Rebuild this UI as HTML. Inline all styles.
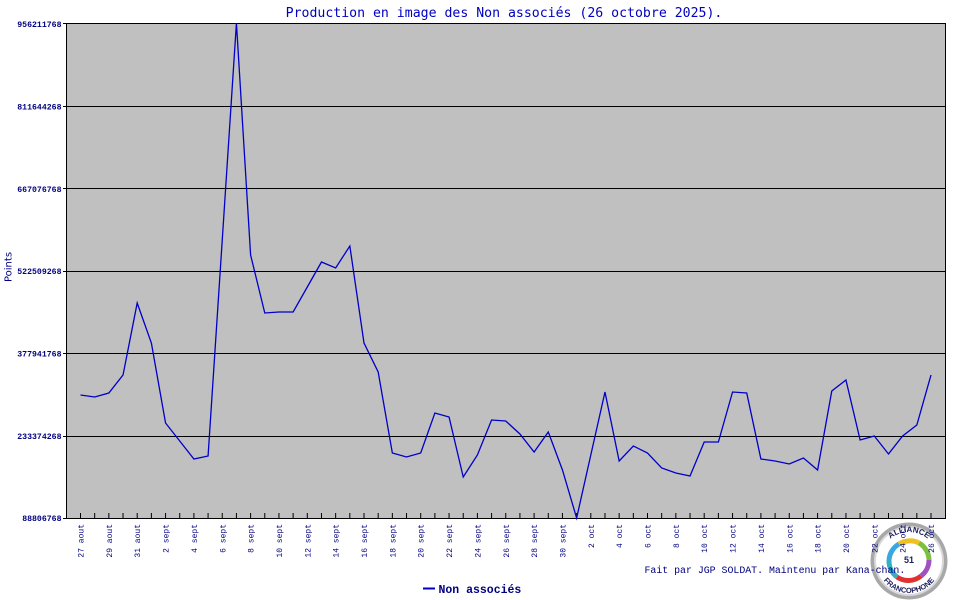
<!DOCTYPE html>
<html>
<head>
<meta charset="utf-8">
<style>
  html,body{margin:0;padding:0;background:#fff;}
  svg{display:block;}
</style>
</head>
<body>
<svg width="970" height="600" viewBox="0 0 970 600" xmlns="http://www.w3.org/2000/svg">
  <rect x="0" y="0" width="970" height="600" fill="#ffffff"/>
  <!-- Title -->
  <text x="504" y="17" text-anchor="middle" font-family="DejaVu Sans Mono, Liberation Mono, monospace" font-size="13.2" fill="#0000c0">Production en image des Non associés (26 octobre 2025).</text>

  <!-- Plot area -->
  <rect x="67" y="24" width="878" height="494" fill="#c0c0c0"/>
  <g stroke="#000" stroke-width="1">
    <line x1="67" y1="106.5" x2="945" y2="106.5"/>
    <line x1="67" y1="188.5" x2="945" y2="188.5"/>
    <line x1="67" y1="271.5" x2="945" y2="271.5"/>
    <line x1="67" y1="353.5" x2="945" y2="353.5"/>
    <line x1="67" y1="436.5" x2="945" y2="436.5"/>
    <rect x="66.5" y="23.5" width="879" height="495" fill="none"/>
    <line x1="63" y1="23.5" x2="67" y2="23.5"/>
    <line x1="63" y1="106.5" x2="67" y2="106.5"/>
    <line x1="63" y1="188.5" x2="67" y2="188.5"/>
    <line x1="63" y1="271.5" x2="67" y2="271.5"/>
    <line x1="63" y1="353.5" x2="67" y2="353.5"/>
    <line x1="63" y1="436.5" x2="67" y2="436.5"/>
    <line x1="63" y1="518.5" x2="67" y2="518.5"/>
  </g>

  <!-- Y labels -->
  <g font-family="Liberation Mono, DejaVu Sans Mono, monospace" font-size="8.2" font-weight="bold" fill="#000080" text-anchor="end">
    <text x="61.5" y="27">956211768</text>
    <text x="61.5" y="109.5">811644268</text>
    <text x="61.5" y="192">667076768</text>
    <text x="61.5" y="274">522509268</text>
    <text x="61.5" y="356.5">377941768</text>
    <text x="61.5" y="439">233374268</text>
    <text x="61.5" y="521">88806768</text>
  </g>

  <!-- Y axis title -->
  <text transform="translate(11.5,267) rotate(-90)" text-anchor="middle" font-family="DejaVu Sans, Liberation Sans, sans-serif" font-size="10" fill="#000080">Points</text>

  <!-- X ticks -->
  <g stroke="#000" stroke-width="1">
    <path d="M80.5 513V518M94.68 513V518M108.85 513V518M123.03 513V518M137.2 513V518M151.38 513V518M165.55 513V518M179.73 513V518M193.9 513V518M208.08 513V518M222.25 513V518M236.43 513V518M250.6 513V518M264.78 513V518M278.95 513V518M293.13 513V518M307.3 513V518M321.48 513V518M335.65 513V518M349.83 513V518M364 513V518M378.18 513V518M392.35 513V518M406.53 513V518M420.7 513V518M434.88 513V518M449.05 513V518M463.23 513V518M477.4 513V518M491.58 513V518M505.75 513V518M519.93 513V518M534.1 513V518M548.28 513V518M562.45 513V518M576.63 513V518M590.8 513V518M604.98 513V518M619.15 513V518M633.33 513V518M647.5 513V518M661.68 513V518M675.85 513V518M690.03 513V518M704.2 513V518M718.38 513V518M732.55 513V518M746.73 513V518M760.9 513V518M775.08 513V518M789.25 513V518M803.43 513V518M817.6 513V518M831.78 513V518M845.95 513V518M860.13 513V518M874.3 513V518M888.48 513V518M902.65 513V518M916.83 513V518M931 513V518"/>
  </g>

  <!-- Data line -->
  <polyline fill="none" stroke="#0000c8" stroke-width="1.3" stroke-linejoin="miter" points="
    80.5,395 94.68,397 108.85,393 123.03,375 137.2,303 151.38,343 165.55,423 179.73,441 193.9,459 208.08,456
    222.25,240 236.43,23 250.6,255 264.78,313 278.95,312 293.13,312 307.3,287 321.48,262 335.65,268 349.83,246
    364,343 378.18,372 392.35,453 406.53,457 420.7,453 434.88,413 449.05,417 463.23,477 477.4,455 491.58,420
    505.75,421 519.93,434 534.1,452 548.28,432 562.45,470 576.63,518 590.8,455 604.98,392 619.15,461 633.33,446
    647.5,453 661.68,468 675.85,473 690.03,476 704.2,442 718.38,442 732.55,392 746.73,393 760.9,459 775.08,461
    789.25,464 803.43,458 817.6,470 831.78,391 845.95,380 860.13,440 874.3,436 888.48,454 902.65,436 916.83,425 931,375"/>

  <!-- Logo -->
  <g>
    <circle cx="909" cy="561" r="38.5" fill="#a8a8a8"/>
    <circle cx="909" cy="561" r="35" fill="#d8d8d8"/>
    <circle cx="909" cy="561" r="33" fill="#ffffff"/>
    <g fill="none" stroke-width="5">
      <path d="M889 561 A20 20 0 0 1 899 544" stroke="#3aa8e0"/>
      <path d="M899 544 A20 20 0 0 1 919 543" stroke="#f0c020"/>
      <path d="M919 543 A20 20 0 0 1 929 560" stroke="#7cc040"/>
      <path d="M929 560 A20 20 0 0 1 921 576" stroke="#a050c0"/>
      <path d="M921 576 A20 20 0 0 1 897 577" stroke="#e03030"/>
      <path d="M897 577 A20 20 0 0 1 889 561" stroke="#30b0c0"/>
    </g>
    <text x="909" y="563" text-anchor="middle" font-family="Liberation Sans, sans-serif" font-size="9" font-weight="bold" fill="#202060">51</text>
    <defs>
      <path id="arcTop" d="M880 561 A29 29 0 0 1 938 561"/>
      <path id="arcBot" d="M877 561 A32 32 0 0 0 941 561"/>
    </defs>
    <text font-family="Liberation Sans, sans-serif" font-size="8" font-weight="bold" fill="#202060"><textPath href="#arcTop" startOffset="50%" text-anchor="middle">ALLIANCE</textPath></text>
    <text font-family="Liberation Sans, sans-serif" font-size="7.5" font-weight="bold" fill="#202060"><textPath href="#arcBot" startOffset="50%" text-anchor="middle">FRANCOPHONE</textPath></text>
  </g>

  <!-- X labels -->
  <g font-family="Liberation Mono, DejaVu Sans Mono, monospace" font-size="8" fill="#000080" text-anchor="end">
    <text transform="translate(83.5,524) rotate(-90)">27 aout</text>
    <text transform="translate(111.85,524) rotate(-90)">29 aout</text>
    <text transform="translate(140.2,524) rotate(-90)">31 aout</text>
    <text transform="translate(168.55,524) rotate(-90)">2 sept</text>
    <text transform="translate(196.9,524) rotate(-90)">4 sept</text>
    <text transform="translate(225.25,524) rotate(-90)">6 sept</text>
    <text transform="translate(253.6,524) rotate(-90)">8 sept</text>
    <text transform="translate(281.95,524) rotate(-90)">10 sept</text>
    <text transform="translate(310.3,524) rotate(-90)">12 sept</text>
    <text transform="translate(338.65,524) rotate(-90)">14 sept</text>
    <text transform="translate(367,524) rotate(-90)">16 sept</text>
    <text transform="translate(395.35,524) rotate(-90)">18 sept</text>
    <text transform="translate(423.7,524) rotate(-90)">20 sept</text>
    <text transform="translate(452.05,524) rotate(-90)">22 sept</text>
    <text transform="translate(480.4,524) rotate(-90)">24 sept</text>
    <text transform="translate(508.75,524) rotate(-90)">26 sept</text>
    <text transform="translate(537.1,524) rotate(-90)">28 sept</text>
    <text transform="translate(565.45,524) rotate(-90)">30 sept</text>
    <text transform="translate(593.8,524) rotate(-90)">2 oct</text>
    <text transform="translate(622.15,524) rotate(-90)">4 oct</text>
    <text transform="translate(650.5,524) rotate(-90)">6 oct</text>
    <text transform="translate(678.85,524) rotate(-90)">8 oct</text>
    <text transform="translate(707.2,524) rotate(-90)">10 oct</text>
    <text transform="translate(735.55,524) rotate(-90)">12 oct</text>
    <text transform="translate(763.9,524) rotate(-90)">14 oct</text>
    <text transform="translate(792.25,524) rotate(-90)">16 oct</text>
    <text transform="translate(820.6,524) rotate(-90)">18 oct</text>
    <text transform="translate(848.95,524) rotate(-90)">20 oct</text>
    <text transform="translate(877.3,524) rotate(-90)">22 oct</text>
    <text transform="translate(905.65,524) rotate(-90)">24 oct</text>
    <text transform="translate(934,524) rotate(-90)">26 oct</text>
  </g>

  <!-- Credit -->
  <text x="644.5" y="573" font-family="Liberation Mono, DejaVu Sans Mono, monospace" font-size="9.9" fill="#000080">Fait par JGP SOLDAT. Maintenu par Kana-chan.</text>

  <!-- Legend -->
  <line x1="423" y1="588.5" x2="435" y2="588.5" stroke="#0000c0" stroke-width="2"/>
  <text x="438.5" y="593" font-family="Liberation Mono, DejaVu Sans Mono, monospace" font-size="11.5" font-weight="bold" fill="#000080">Non associés</text>
</svg>
</body>
</html>
